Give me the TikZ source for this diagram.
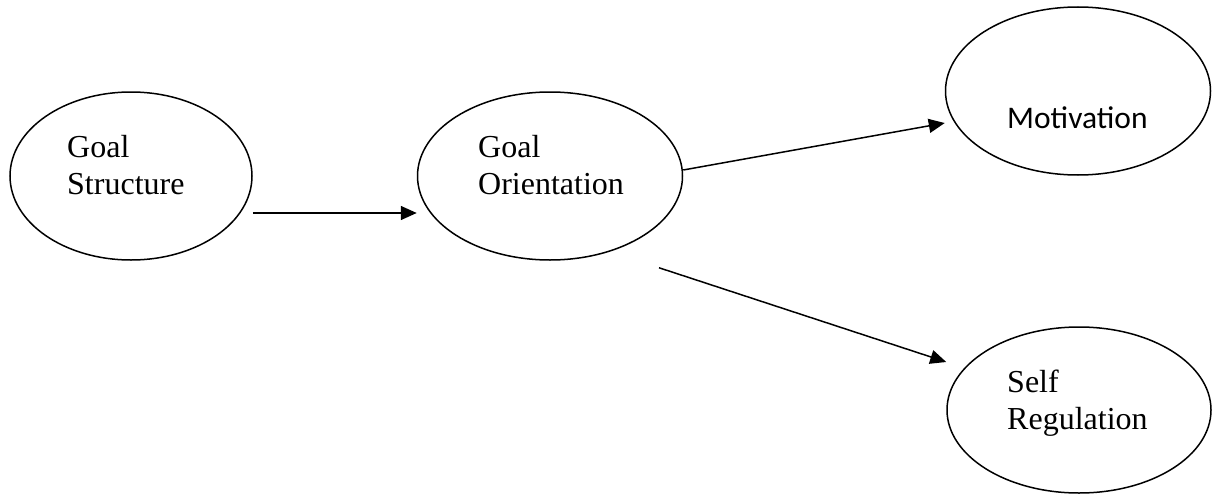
\documentclass[tikz,border=0pt]{standalone}
\usepackage{fontspec}
\setmainfont{Liberation Serif}
\newfontfamily\calfont{Carlito}
\usetikzlibrary{shapes.geometric,arrows.meta}
\tikzset{
  bubble/.style={ellipse, draw, line width=1.5pt, inner sep=0pt},
  txt/.style={inner sep=0pt, align=left, font=\fontsize{32}{37}\selectfont},
  link/.style={line width=1.5pt, -{Triangle[length=16pt,width=14pt]}}
}
\begin{document}
\begin{tikzpicture}[x=1pt,y=-1pt]
\useasboundingbox (0,0) rectangle (1215,495);
\node[bubble, minimum width=242pt, minimum height=168pt] (gs) at (131,176) {};
\node[bubble, minimum width=265pt, minimum height=168pt] (go) at (550,176) {};
\node[bubble, minimum width=265pt, minimum height=168pt] (mot) at (1078,91) {};
\node[bubble, minimum width=264pt, minimum height=166pt] (sr) at (1079,410) {};

\node[txt, anchor=north west] (gstext) at (67,135) {Goal\\Structure};
\node[txt, anchor=north west] (gotext) at (478,135) {Goal\\Orientation};
\node[inner sep=0pt, anchor=base west, font=\calfont\fontsize{31.5}{36}\selectfont] (mottext) at (1007,128) {Motivation};
\node[txt, anchor=north west] (srtext) at (1007,370) {Self\\Regulation};

\draw[link] ([yshift=-37pt]gs.east) -- ([yshift=-37pt]go.west);
\draw[link] ([yshift=6pt]go.east) -- ([yshift=-32pt]mot.west);
\draw[link] ([xshift=109pt,yshift=-7pt]go.south) -- ([yshift=48pt]sr.west);
\end{tikzpicture}
\end{document}
